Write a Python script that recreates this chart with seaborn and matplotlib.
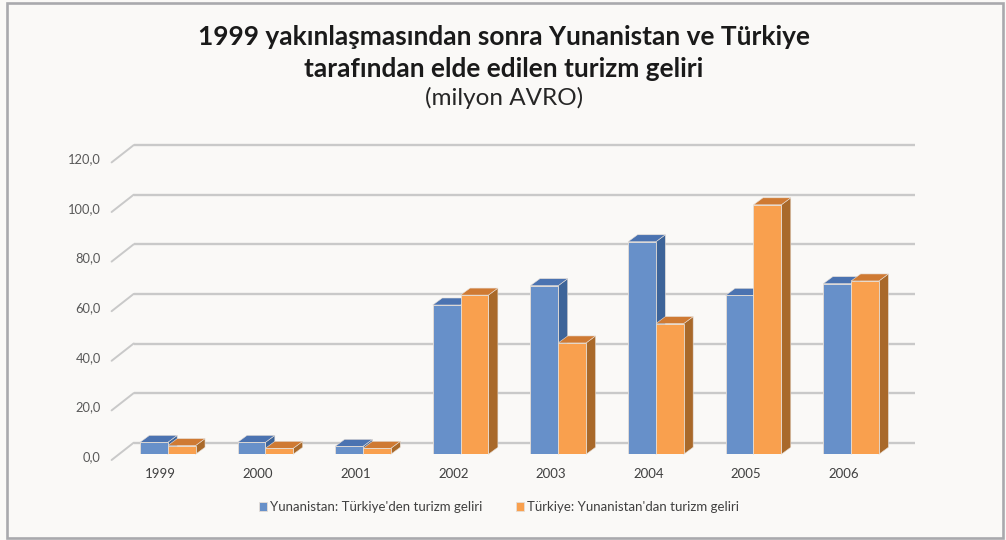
import numpy as np
import pandas as pd
import matplotlib
matplotlib.use("Agg")
import matplotlib.pyplot as plt
import seaborn as sns
from matplotlib.transforms import offset_copy
from matplotlib.patches import Polygon, Rectangle

# data (milyon AVRO)
years = ["1999", "2000", "2001", "2002", "2003", "2004", "2005", "2006"]
greece_from_turkey = [4.8, 4.8, 3.2, 60.2, 68.0, 85.7, 64.1, 68.8]
turkey_from_greece = [3.5, 2.4, 2.4, 64.2, 44.9, 52.7, 100.6, 69.9]
series_names = ["Yunanistan: Türkiye'den turizm geliri",
                "Türkiye: Yunanistan'dan turizm geliri"]
y_ticks = [0, 20, 40, 60, 80, 100, 120]

df = pd.DataFrame({
    "year": years * 2,
    "value": greece_from_turkey + turkey_from_greece,
    "series": [series_names[0]] * len(years) + [series_names[1]] * len(years),
})

bg = "#FAF9F7"
front_cols = ["#6790C9", "#F9A04E"]
top_cols = ["#4B73B1", "#CF7A33"]
side_cols = ["#3D6499", "#A9692A"]
grid_col = "#C9C9C9"

sns.set_theme(style="white")
plt.rcParams["font.family"] = ["Lato", "DejaVu Sans"]

fig = plt.figure(figsize=(10.06, 5.40), dpi=100, facecolor=bg)
ax = fig.add_axes([118.9 / 1006, (540 - 454.3) / 540, 781 / 1006, 297.6 / 540])
ax.set_facecolor("none")

sns.barplot(data=df, x="year", y="value", hue="series", palette=front_cols,
            width=0.57, saturation=1, ax=ax, zorder=3,
            edgecolor="#E6DED6", linewidth=0.6)

ax.set_xlim(-0.5, 7.5)
ax.set_ylim(0, 120)
for s in ax.spines.values():
    s.set_visible(False)
ax.set_xticks([])
ax.set_yticks([])
ax.set_xlabel("")
ax.set_ylabel("")

# pixel -> data unit factors
ux = 781 / 8.0
uy = 297.6 / 120.0

# 3d depth: back wall and front edge offsets (pixels)
back_dx, back_dy = 14.8, 11.6
front_dx, front_dy = -7.3, -5.7
bar_dx, bar_dy = 9.5 / ux, 7.0 / uy

back_tr = offset_copy(ax.transData, fig=fig, x=back_dx, y=back_dy, units="dots")
for v in y_ticks:
    ax.plot([-0.5, 7.5], [v, v], color=grid_col, lw=1.7, transform=back_tr,
            clip_on=False, zorder=1, solid_capstyle="butt")
    ax.plot([-0.5 + front_dx / ux, -0.5 + back_dx / ux],
            [v + front_dy / uy, v + back_dy / uy],
            color=grid_col, lw=1.4, clip_on=False, zorder=1)
    ax.text(-0.5, v, f"{v:.1f}".replace(".", ","),
            transform=offset_copy(ax.transData, fig=fig, x=-18, y=-2.7, units="dots"),
            ha="right", va="center", fontsize=9.3, color="#595959")

for i, yr in enumerate(years):
    ax.text(i, 0, yr,
            transform=offset_copy(ax.transData, fig=fig, x=-7.3, y=-20, units="dots"),
            ha="center", va="center", fontsize=9.5, color="#404040")

# side and top faces of the bars
for k, cont in enumerate(ax.containers):
    for rect in cont:
        x0, w, h = rect.get_x(), rect.get_width(), rect.get_height()
        side = [(x0 + w, 0), (x0 + w + bar_dx, bar_dy),
                (x0 + w + bar_dx, h + bar_dy), (x0 + w, h)]
        top = [(x0, h), (x0 + bar_dx, h + bar_dy),
               (x0 + w + bar_dx, h + bar_dy), (x0 + w, h)]
        z = 2 + 0.1 * k
        ax.add_patch(Polygon(side, closed=True, facecolor=side_cols[k],
                             edgecolor="#E6DED6", lw=0.4, zorder=z, clip_on=False))
        ax.add_patch(Polygon(top, closed=True, facecolor=top_cols[k],
                             edgecolor="#E6DED6", lw=0.4, zorder=z, clip_on=False))

sns.move_legend(ax, "center", bbox_to_anchor=(499 / 1006, 1 - 507 / 540),
                bbox_transform=fig.transFigure, ncol=2, frameon=False, title=None,
                fontsize=9.5, labelcolor="#404040", handlelength=0.6,
                handleheight=0.6, handletextpad=0.2, columnspacing=2.6)

fig.text(504 / 1006, 1 - 45 / 540,
         "1999 yakınlaşmasından sonra Yunanistan ve Türkiye",
         ha="center", va="baseline", fontsize=18.9, fontweight="bold", color="#1A1A1A")
fig.text(504 / 1006, 1 - 77 / 540, "tarafından elde edilen turizm geliri",
         ha="center", va="baseline", fontsize=18.9, fontweight="bold", color="#1A1A1A")
fig.text(504 / 1006, 1 - 105 / 540, "(milyon AVRO)",
         ha="center", va="baseline", fontsize=17.5, color="#262626")

fig.patches.append(Rectangle((7 / 1006, 2.5 / 540), 996 / 1006, 535 / 540,
                             transform=fig.transFigure, fill=False,
                             edgecolor="#A9A9AD", lw=1.9))

fig.savefig("out.png", dpi=100, facecolor=bg)
